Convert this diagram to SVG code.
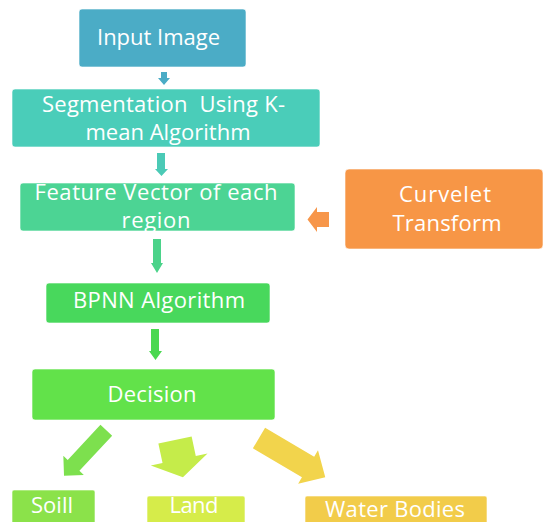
<svg xmlns="http://www.w3.org/2000/svg" width="544" height="522" viewBox="0 0 544 522">
  <style>
    .box { stroke: #ffffff; stroke-opacity: 0.6; stroke-width: 1; }
    .lbl { font-family: "Open Sans", "Liberation Sans", sans-serif; font-size: 22px; fill: #ffffff; text-anchor: middle; white-space: pre; }
  </style>
  <rect width="544" height="522" fill="#ffffff"/>

  <g id="connectors">
    <!-- Input Image -> Segmentation -->
    <polygon points="161,72 167,72 167,78 170,78 164,85 158,78 161,78" fill="#4BACC6"/>
    <!-- Segmentation -> Feature Vector -->
    <polygon points="157,153 165,153 165,169 168,169 161.5,176 155,169 157,169" fill="#4BCAB6"/>
    <!-- Feature Vector -> BPNN -->
    <polygon points="153,239 161,239 161,263 163,263 157,273 151,263 153,263" fill="#4BD38A"/>
    <!-- BPNN -> Decision -->
    <polygon points="151,329 159,329 159,351 162,351 155.5,360 149,351 151,351" fill="#4AD850"/>
    <!-- Curvelet Transform -> Feature Vector -->
    <polygon points="329,212 317,212 317,207 307.5,219.5 317,232 317,227 329,227" fill="#F7964A"/>
    <!-- Decision -> Soill -->
    <polygon points="0,-8 48,-8 48,-14 62,0 48,14 48,8 0,8" fill="#7DE04E" transform="translate(106.3,430.3) rotate(133)"/>
    <!-- Decision -> Land -->
    <polygon points="0,-17 20,-17 20,-29 38,0 20,29 20,17 0,17" fill="#C5EC4A" transform="translate(175,440) rotate(78)"/>
    <!-- Decision -> Water Bodies -->
    <polygon points="0,-12 57,-12 57,-19.5 77,0 57,19.5 57,12 0,12" fill="#F2D44C" transform="translate(259,438) rotate(30.6)"/>
  </g>

  <g id="input-image">
    <rect class="box" x="79" y="9" width="167" height="58" rx="3" fill="#4BACC6"/>
    <text class="lbl" x="158.5" y="45" textLength="123">Input Image</text>
  </g>

  <g id="segmentation">
    <rect class="box" x="12" y="89" width="308" height="58" rx="3" fill="#4ACDB9"/>
    <text class="lbl" x="163.5" y="112" textLength="243">Segmentation  Using K-</text>
    <text class="lbl" x="168" y="140" textLength="165">mean Algorithm</text>
  </g>

  <g id="feature-vector">
    <rect class="box" x="20" y="183" width="275" height="48" rx="3" fill="#4CD494"/>
    <text class="lbl" x="156" y="200" textLength="243">Feature Vector of each</text>
    <text class="lbl" x="156" y="228" textLength="69">region</text>
  </g>

  <g id="curvelet">
    <rect class="box" x="345" y="169" width="198" height="80" rx="4" fill="#F79646"/>
    <text class="lbl" x="445" y="202" textLength="92">Curvelet</text>
    <text class="lbl" x="447" y="231" textLength="109">Transform</text>
  </g>

  <g id="bpnn">
    <rect class="box" x="46" y="283" width="224" height="40" rx="3" fill="#48D85C"/>
    <text class="lbl" x="159" y="308" textLength="172">BPNN Algorithm</text>
  </g>

  <g id="decision">
    <rect class="box" x="32" y="369" width="243" height="51" rx="3" fill="#62E24A"/>
    <text class="lbl" x="152" y="402" textLength="89">Decision</text>
  </g>

  <g id="soil">
    <rect class="box" x="12" y="490" width="83" height="40" rx="2" fill="#8BE24A"/>
    <text class="lbl" x="52" y="513" textLength="42">Soill</text>
  </g>

  <g id="land">
    <rect class="box" x="147" y="496" width="98" height="34" rx="2" fill="#D6EC4A"/>
    <text class="lbl" x="194" y="513" textLength="49">Land</text>
  </g>

  <g id="water-bodies">
    <rect class="box" x="305" y="496" width="182" height="34" rx="2" fill="#F2CC4A"/>
    <text class="lbl" x="395" y="517" textLength="140">Water Bodies</text>
  </g>
</svg>
